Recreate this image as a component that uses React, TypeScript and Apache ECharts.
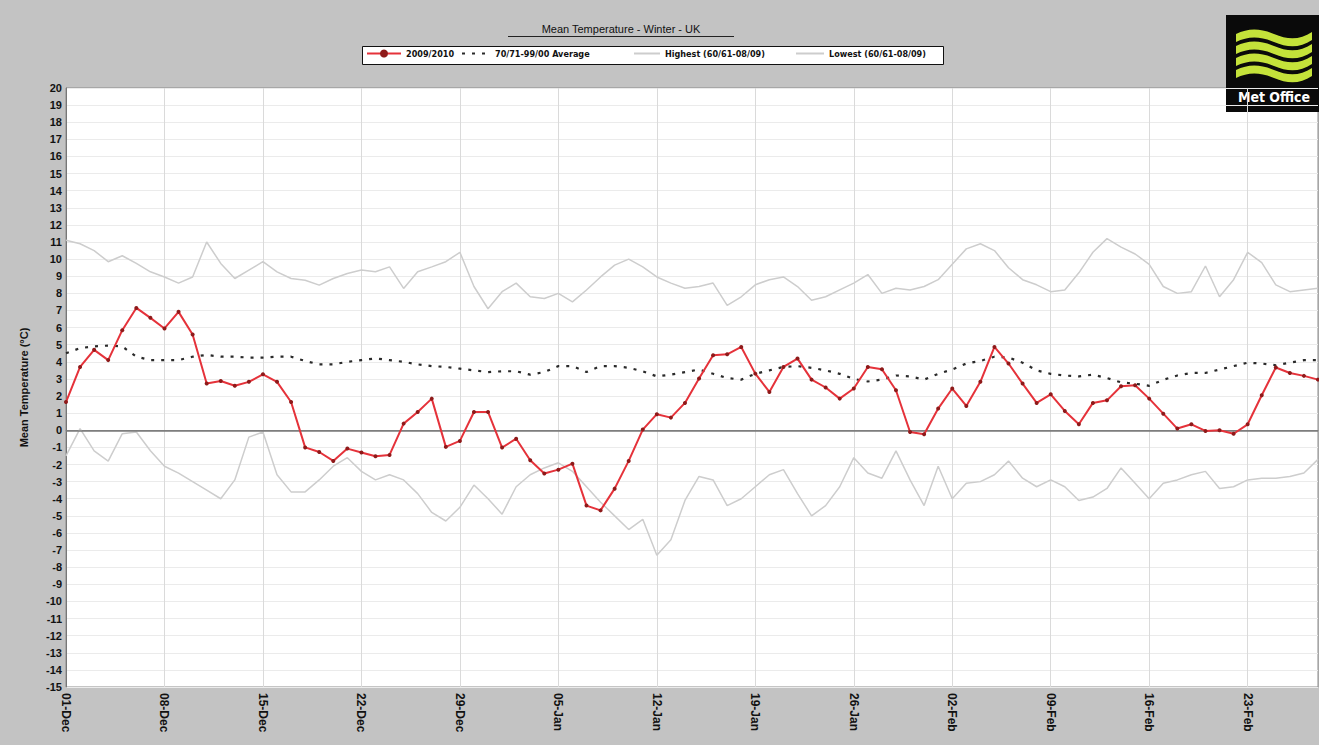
import React, { useEffect, useRef } from "react";
import * as echarts from "echarts";

const monthNames = ["Dec", "Jan", "Feb"];
const monthLengths = [31, 31, 28];
const tickLabels = ["01-Dec", "08-Dec", "15-Dec", "22-Dec", "29-Dec", "05-Jan", "12-Jan", "19-Jan", "26-Jan", "02-Feb", "09-Feb", "16-Feb", "23-Feb"];

const days: string[] = [];
monthNames.forEach((m, i) => {
  for (let d = 1; d <= monthLengths[i]; d++) days.push((d < 10 ? "0" : "") + d + "-" + m);
});

const season2009: number[] = [
  1.65, 3.7, 4.7, 4.1, 5.85, 7.15, 6.57, 5.95, 6.92, 5.6,
  2.73, 2.88, 2.6, 2.83, 3.27, 2.83, 1.65, -1.0, -1.27, -1.79,
  -1.07, -1.3, -1.52, -1.44, 0.39, 1.07, 1.85, -0.97, -0.62, 1.07,
  1.07, -1.01, -0.49, -1.75, -2.53, -2.3, -1.95, -4.4, -4.68, -3.41,
  -1.79, 0.04, 0.94, 0.74, 1.6, 3.02, 4.39, 4.44, 4.87, 3.31,
  2.24, 3.7, 4.19, 2.96, 2.5, 1.85, 2.44, 3.7, 3.57, 2.34,
  -0.1, -0.23, 1.27, 2.44, 1.42, 2.83, 4.87, 3.9, 2.73, 1.6,
  2.1, 1.13, 0.35, 1.6, 1.75, 2.57, 2.63, 1.85, 0.97, 0.1,
  0.35, -0.04, 0.0, -0.2, 0.35, 2.05, 3.67, 3.35, 3.18, 2.96,
];

const average7100: number[] = [
  4.5, 4.8, 4.9, 4.95, 4.9, 4.3, 4.1, 4.1, 4.1, 4.3,
  4.4, 4.3, 4.3, 4.25, 4.25, 4.3, 4.3, 4.05, 3.85, 3.85,
  4.0, 4.1, 4.2, 4.1, 4.0, 3.85, 3.75, 3.7, 3.6, 3.5,
  3.4, 3.45, 3.45, 3.25, 3.4, 3.75, 3.75, 3.4, 3.75, 3.75,
  3.65, 3.45, 3.15, 3.25, 3.4, 3.55, 3.3, 3.05, 2.96, 3.3,
  3.5, 3.7, 3.75, 3.65, 3.5, 3.3, 3.0, 2.85, 2.96, 3.2,
  3.15, 2.96, 3.3, 3.55, 3.9, 4.05, 4.3, 4.25, 3.95, 3.5,
  3.3, 3.2, 3.15, 3.25, 3.05, 2.8, 2.72, 2.6, 2.95, 3.2,
  3.35, 3.35, 3.55, 3.75, 3.95, 3.9, 3.8, 3.95, 4.1, 4.1,
];

const highest: number[] = [
  11.1, 10.9, 10.5, 9.85, 10.2, 9.75, 9.26, 8.96, 8.6, 8.96,
  11.0, 9.75, 8.87, 9.36, 9.85, 9.26, 8.87, 8.77, 8.48, 8.87,
  9.16, 9.36, 9.26, 9.55, 8.29, 9.26, 9.55, 9.85, 10.4, 8.4,
  7.1, 8.1, 8.6, 7.8, 7.7, 8.0, 7.5, 8.2, 8.96, 9.65,
  10.0, 9.55, 8.96, 8.6, 8.3, 8.4, 8.6, 7.3, 7.8, 8.5,
  8.8, 8.96, 8.4, 7.6, 7.8, 8.2, 8.6, 9.1, 8.0, 8.3,
  8.2, 8.4, 8.8, 9.7, 10.6, 10.9, 10.5, 9.5, 8.8, 8.5,
  8.1, 8.2, 9.2, 10.4, 11.2, 10.7, 10.3, 9.7, 8.4, 8.0,
  8.1, 9.6, 7.8, 8.8, 10.4, 9.8, 8.5, 8.1, 8.2, 8.3,
];

const lowest: number[] = [
  -1.5, 0.1, -1.2, -1.8, -0.2, -0.1, -1.2, -2.1, -2.5, -3.0,
  -3.5, -4.0, -2.9, -0.4, -0.1, -2.6, -3.6, -3.6, -2.9, -2.1,
  -1.6, -2.4, -2.9, -2.6, -2.9, -3.7, -4.8, -5.3, -4.5, -3.2,
  -4.0, -4.9, -3.3, -2.6, -2.2, -1.9, -2.4, -3.3, -4.2, -5.0,
  -5.8, -5.2, -7.3, -6.4, -4.1, -2.7, -2.9, -4.4, -4.0, -3.3,
  -2.6, -2.3, -3.7, -5.0, -4.4, -3.3, -1.6, -2.5, -2.8, -1.2,
  -2.9, -4.4, -2.1, -4.0, -3.1, -3.0, -2.6, -1.8, -2.8, -3.3,
  -2.9, -3.3, -4.1, -3.9, -3.4, -2.2, -3.1, -4.0, -3.1, -2.9,
  -2.6, -2.4, -3.4, -3.3, -2.9, -2.8, -2.8, -2.7, -2.5, -1.7,
];

const seriesNames = ["2009/2010", "70/71-99/00 Average", "Highest (60/61-08/09)", "Lowest (60/61-08/09)"];

const wavePath =
  "M0,6 C12,0 24,0 38,6 C52,12 64,12 76,4 L76,12 C64,20 52,20 38,14 C24,8 12,8 0,14 Z";
echarts.graphic.registerShape("moWave", echarts.graphic.extendPath(wavePath, {}));

const FONT = "'Liberation Sans', Arial, sans-serif";
const NARROW = "'Liberation Sans Narrow', 'DejaVu Sans Condensed', 'Liberation Sans', Arial, sans-serif";

export default function App() {
  const ref = useRef<HTMLDivElement>(null);
  useEffect(() => {
    if (!ref.current) return;
    const chart = echarts.init(ref.current, null, { renderer: "svg" });
    const legendText = { fontSize: 9, fontWeight: "bold", color: "#111", fontFamily: NARROW };
    const mkLegend = (name: string, left: number, w: number, hideSymbol: boolean) => ({
      data: [name],
      left,
      top: 49,
      padding: 0,
      itemWidth: w,
      itemHeight: 10,
      itemGap: 4,
      textStyle: legendText,
      selectedMode: false,
      ...(hideSymbol ? { itemStyle: { opacity: 0 } } : {}),
    });
    const waves = [13, 25, 37, 49].map((y) => ({
      type: "moWave",
      x: 10,
      y,
      style: { fill: "#c4e23a" },
    }));
    chart.setOption({
      animation: false,
      backgroundColor: "#c3c3c3",
      textStyle: { fontFamily: FONT },
      legend: [
        mkLegend(seriesNames[0], 366, 34, false),
        mkLegend(seriesNames[1], 461, 28, true),
        mkLegend(seriesNames[2], 633, 26, true),
        mkLegend(seriesNames[3], 795, 28, true),
      ],
      graphic: [
        {
          type: "text",
          x: 621,
          y: 29,
          z: 10,
          style: {
            text: "Mean Temperature - Winter - UK",
            fontSize: 11,
            fontFamily: FONT,
            fill: "#111",
            align: "center",
            verticalAlign: "middle",
          },
        },
        {
          type: "line",
          z: 10,
          shape: { x1: 508, y1: 36.5, x2: 734, y2: 36.5 },
          style: { stroke: "#222", lineWidth: 1 },
        },
        {
          type: "rect",
          z: 0,
          shape: { x: 362.5, y: 46.5, width: 581, height: 18 },
          style: { fill: "#ffffff", stroke: "#111", lineWidth: 1 },
        },
        {
          type: "group",
          x: 1226,
          y: 15,
          z: 10,
          children: [
            { type: "rect", shape: { x: 0, y: 0, width: 95, height: 97 }, style: { fill: "#0a0a0a" } },
            ...waves,
            {
              type: "text",
              x: 48,
              y: 82,
              style: {
                text: "Met Office",
                fontSize: 14,
                fontWeight: "bold",
                fontFamily: NARROW,
                fill: "#ffffff",
                align: "center",
                verticalAlign: "middle",
              },
            },
          ],
        },
      ],
      grid: {
        left: 66,
        right: 1,
        top: 88,
        bottom: 58,
        show: true,
        backgroundColor: "#ffffff",
        borderColor: "#8a8a8a",
        borderWidth: 1,
      },
      xAxis: {
        type: "category",
        data: days,
        boundaryGap: false,
        axisLine: { show: true, lineStyle: { color: "#8a8a8a" } },
        axisTick: { show: false },
        axisLabel: {
          interval: 6,
          rotate: -90,
          color: "#111",
          fontWeight: "bold",
          fontSize: 12,
          fontFamily: FONT,
          margin: 6,
        },
        splitLine: { show: true, interval: 6, lineStyle: { color: "#dadada", width: 1 } },
      },
      yAxis: {
        type: "value",
        min: -15,
        max: 20,
        interval: 1,
        name: "Mean Temperature (°C)",
        nameLocation: "middle",
        nameGap: 37,
        nameTextStyle: { fontSize: 11, fontWeight: "bold", color: "#111", fontFamily: FONT },
        axisLine: { show: true, lineStyle: { color: "#777" } },
        axisTick: { show: false },
        axisLabel: { color: "#111", fontWeight: "bold", fontSize: 11, margin: 4, fontFamily: FONT },
        splitLine: { show: true, lineStyle: { color: "#ebebeb", width: 1 } },
      },
      series: [
        {
          name: seriesNames[2],
          type: "line",
          data: highest,
          symbol: "none",
          z: 2,
          lineStyle: { color: "#cdcdcd", width: 1.5 },
          itemStyle: { color: "#cdcdcd" },
        },
        {
          name: seriesNames[3],
          type: "line",
          data: lowest,
          symbol: "none",
          z: 2,
          lineStyle: { color: "#cdcdcd", width: 1.5 },
          itemStyle: { color: "#cdcdcd" },
        },
        {
          name: seriesNames[1],
          type: "line",
          data: average7100,
          symbol: "none",
          z: 3,
          lineStyle: { color: "#2a2a2a", width: 2.2, type: [3, 7] },
          itemStyle: { color: "#2a2a2a" },
          markLine: {
            silent: true,
            symbol: "none",
            label: { show: false },
            lineStyle: { color: "#7a7a7a", width: 1.5, type: "solid" },
            data: [{ yAxis: 0 }],
          },
        },
        {
          name: seriesNames[0],
          type: "line",
          data: season2009,
          symbol: "circle",
          symbolSize: 4,
          showAllSymbol: true,
          z: 5,
          lineStyle: { color: "#e5323a", width: 2 },
          itemStyle: { color: "#8e1a1a", borderWidth: 0 },
        },
      ],
    });
    return () => chart.dispose();
  }, []);
  return (
    <div
      ref={ref}
      style={{ position: "fixed", left: 0, top: 0, width: 1319, height: 745 }}
    />
  );
}
